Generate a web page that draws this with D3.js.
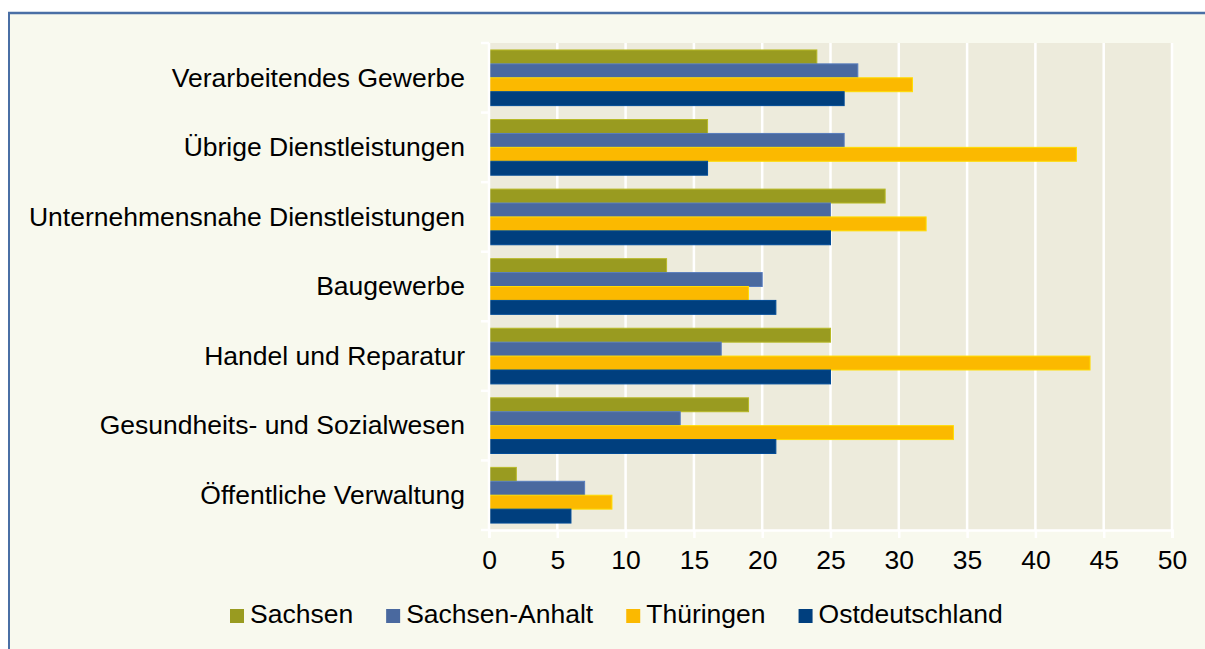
<!DOCTYPE html>
<html>
<head>
<meta charset="utf-8">
<script src="https://cdn.jsdelivr.net/npm/d3@7"></script>
<style>
  html, body { margin: 0; padding: 0; background: #ffffff; }
  svg { display: block; font-family: "Liberation Sans", Arial, sans-serif; }
</style>
</head>
<body>
<svg id="chart" width="1205" height="649"></svg>
<script>
const categories = [
  "Verarbeitendes Gewerbe",
  "Übrige Dienstleistungen",
  "Unternehmensnahe Dienstleistungen",
  "Baugewerbe",
  "Handel und Reparatur",
  "Gesundheits- und Sozialwesen",
  "Öffentliche Verwaltung"
];
const seriesNames = ["Sachsen", "Sachsen-Anhalt", "Thüringen", "Ostdeutschland"];
const sachsen       = [24, 16, 29, 13, 25, 19, 2];
const sachsenAnhalt = [27, 26, 25, 20, 17, 14, 7];
const thueringen    = [31, 43, 32, 19, 44, 34, 9];
const ostdeutschland= [26, 16, 25, 21, 25, 21, 6];
const xTicks = [0, 5, 10, 15, 20, 25, 30, 35, 40, 45, 50];
const seriesColors = ["#999b20", "#4a699f", "#fbb900", "#003f7e"];

const seriesValues = [sachsen, sachsenAnhalt, thueringen, ostdeutschland];

const svg = d3.select("#chart");
const W = 1205, H = 649;
const FS = 26.5;

// outer frame
svg.append("rect").attr("x", 9).attr("y", 13).attr("width", W - 9).attr("height", H - 13)
  .attr("fill", "#f8f9ee");
svg.append("line").attr("x1", 8).attr("x2", W).attr("y1", 13).attr("y2", 13)
  .attr("stroke", "#4a6fa5").attr("stroke-width", 2.5);
svg.append("line").attr("x1", 9).attr("x2", 9).attr("y1", 12).attr("y2", H)
  .attr("stroke", "#4a6fa5").attr("stroke-width", 2);

const plot = { left: 489, right: 1172, top: 43, bottom: 530 };

const x = d3.scaleLinear().domain([0, 50]).range([plot.left, plot.right]);
const y = d3.scaleBand().domain(categories).range([plot.top, plot.bottom]).padding(0);
const ySub = d3.scaleBand().domain(seriesNames)
  .range([y.bandwidth() * 0.1, y.bandwidth() * 0.9]).padding(0);

// plot background
svg.append("rect")
  .attr("x", plot.left).attr("y", plot.top)
  .attr("width", plot.right - plot.left).attr("height", plot.bottom - plot.top)
  .attr("fill", "#edebdc");

// vertical gridlines
svg.append("g").selectAll("line").data(xTicks.slice(1)).join("line")
  .attr("x1", d => x(d)).attr("x2", d => x(d))
  .attr("y1", plot.top).attr("y2", plot.bottom)
  .attr("stroke", "#ffffff").attr("stroke-width", 2.5);

// bars
const rows = [];
categories.forEach((c, i) => {
  seriesNames.forEach((s, j) => {
    rows.push({ cat: c, series: s, value: seriesValues[j][i], color: seriesColors[j] });
  });
});

svg.append("g").selectAll("rect").data(rows).join("rect")
  .attr("x", x(0))
  .attr("y", d => y(d.cat) + ySub(d.series))
  .attr("width", d => x(d.value) - x(0))
  .attr("height", ySub.bandwidth())
  .attr("fill", d => d.color)
  .attr("stroke", d => d3.color(d.color).brighter(0.5))
  .attr("stroke-width", 1);

// x axis (white)
const xAxis = d3.axisBottom(x).tickValues(xTicks).tickSize(8).tickPadding(12).tickFormat(d3.format("d"));
const gx = svg.append("g").attr("transform", `translate(0,${plot.bottom})`).call(xAxis);
gx.select(".domain").attr("stroke", "#ffffff").attr("stroke-width", 2.5);
gx.selectAll(".tick line").attr("stroke", "#ffffff").attr("stroke-width", 2.5);
gx.selectAll(".tick text").attr("fill", "#000").style("font-size", FS + "px")
  .style("font-family", "Liberation Sans, Arial, sans-serif");

// y axis (white) with ticks at category boundaries
const yAxisLine = svg.append("g");
yAxisLine.append("line")
  .attr("x1", plot.left).attr("x2", plot.left)
  .attr("y1", plot.top).attr("y2", plot.bottom)
  .attr("stroke", "#ffffff").attr("stroke-width", 2.5);
const boundaries = categories.map(c => y(c)).concat([y.range()[1]]);
yAxisLine.selectAll("line.tk").data(boundaries).join("line").attr("class", "tk")
  .attr("x1", plot.left - 8).attr("x2", plot.left)
  .attr("y1", d => d).attr("y2", d => d)
  .attr("stroke", "#ffffff").attr("stroke-width", 2.5);

// category labels
svg.append("g").selectAll("text").data(categories).join("text")
  .attr("x", 465)
  .attr("y", d => y(d) + y.bandwidth() / 2)
  .attr("dy", "0.33em")
  .attr("text-anchor", "end")
  .style("font-size", FS + "px")
  .attr("fill", "#000")
  .text(d => d);

// legend
const legend = svg.append("g");
let lx = 230;
const legendBaseline = 623;
seriesNames.forEach((s, j) => {
  legend.append("rect")
    .attr("x", lx).attr("y", legendBaseline - 14)
    .attr("width", 14).attr("height", 14)
    .attr("fill", seriesColors[j]);
  const t = legend.append("text")
    .attr("x", lx + 20).attr("y", legendBaseline)
    .style("font-size", FS + "px").attr("fill", "#000")
    .text(s);
  const w = t.node().getComputedTextLength();
  lx = lx + 20 + w + 33;
});
</script>
</body>
</html>
